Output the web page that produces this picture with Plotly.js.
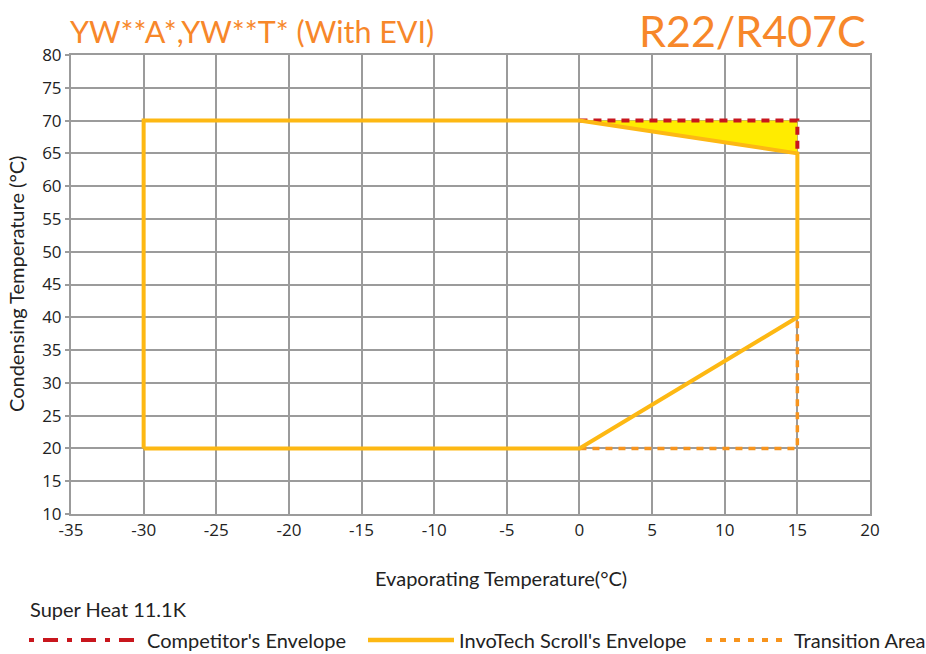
<!DOCTYPE html>
<html>
<head>
<meta charset="utf-8">
<script src="https://cdn.plot.ly/plotly-3.0.1.min.js"></script>
<style>html,body{margin:0;padding:0;background:#fff;}#chart{width:926px;height:654px;}</style>
</head>
<body>
<div id="chart"></div>
<script>
// Data
const competitorX = [0, 15, 15];
const competitorY = [70, 70, 65];
const gainX = [0, 15, 15, 0];
const gainY = [70, 70, 65, 70];
const invoX = [-30, -30, 0, 15, 15, 0, -30];
const invoY = [20, 70, 70, 65, 40, 20, 20];
const transX = [0, 15, 15];
const transY = [20, 20, 40];
const xTicks = [-35, -30, -25, -20, -15, -10, -5, 0, 5, 10, 15, 20];
const xTickText = ['-35', '-30', '-25', '-20', '-15', '-10', '-5', '0', '5', '10', '15', '20'];
const yTicks = [10, 15, 20, 25, 30, 35, 40, 45, 50, 55, 60, 65, 70, 75, 80];
const legendNames = ["Competitor's Envelope", "InvoTech Scroll's Envelope", 'Transition Area'];

const orange = '#F7872A';
const redC = '#C8161D', yellowC = '#FDB813', transC = '#F7941D';
const traces = [
  {x: gainX, y: gainY, type: 'scatter', mode: 'lines', fill: 'toself', fillcolor: '#FFEC00',
   line: {width: 0, color: 'rgba(0,0,0,0)'}, hoverinfo: 'skip'},
  {x: competitorX, y: competitorY, type: 'scatter', mode: 'lines', name: legendNames[0],
   line: {color: redC, width: 4, dash: '8px,6px'}},
  {x: transX, y: transY, type: 'scatter', mode: 'lines', name: legendNames[2],
   line: {color: transC, width: 3.5, dash: '7px,6px'}},
  {x: invoX, y: invoY, type: 'scatter', mode: 'lines', name: legendNames[1],
   line: {color: yellowC, width: 4}}
];

const axisCommon = {
  showgrid: true, gridcolor: '#9B9B9B', gridwidth: 2,
  showline: true, linecolor: '#9B9B9B', linewidth: 2, mirror: true,
  zeroline: false, tickfont: {family: 'Open Sans, sans-serif', size: 17, color: '#222'}
};

// pixel helpers for text/legend placement (plot area: x 71..870, y 55..514)
const px = p => (p - 71) / 799;
const py = p => (514 - p) / 459;
const txtFont = (s) => ({family: 'Lato, sans-serif', size: s, color: '#222'});

const legendY = py(640);
const shapes = [
  {type: 'line', xref: 'paper', yref: 'paper', x0: px(29), x1: px(139), y0: legendY, y1: legendY,
   line: {color: redC, width: 4, dash: '5px,9px,15px,9px'}},
  {type: 'line', xref: 'paper', yref: 'paper', x0: px(368), x1: px(454), y0: legendY, y1: legendY,
   line: {color: yellowC, width: 4.5}},
  {type: 'line', xref: 'paper', yref: 'paper', x0: px(706), x1: px(789), y0: legendY, y1: legendY,
   line: {color: transC, width: 4, dash: '6px,8px'}}
];

const layout = {
  width: 926, height: 654,
  margin: {l: 71, r: 56, t: 55, b: 140},
  paper_bgcolor: '#fff', plot_bgcolor: '#fff',
  showlegend: false,
  xaxis: Object.assign({}, axisCommon, {range: [-35, 20], tickvals: xTicks, ticktext: xTickText, ticks: ''}),
  yaxis: Object.assign({}, axisCommon, {range: [10, 80], tickvals: yTicks, ticks: 'outside', ticklen: 4,
                       tickcolor: '#9B9B9B', tickwidth: 2}),
  shapes: shapes,
  annotations: [
    {text: 'YW**A*,YW**T* (With EVI)', xref: 'paper', yref: 'paper', x: px(68), y: py(31),
     xanchor: 'left', yanchor: 'middle', showarrow: false,
     font: {family: 'Lato, sans-serif', size: 30.5, color: orange}},
    {text: 'R22/R407C', xref: 'paper', yref: 'paper', x: px(868), y: py(31),
     xanchor: 'right', yanchor: 'middle', showarrow: false,
     font: {family: 'Lato, sans-serif', size: 43, color: orange}},
    {text: 'Evaporating Temperature(°C)', xref: 'paper', yref: 'paper', x: px(501), y: py(578),
     xanchor: 'center', yanchor: 'middle', showarrow: false, font: txtFont(20)},
    {text: 'Condensing Temperature (°C)', xref: 'paper', yref: 'paper', x: px(16), y: py(284),
     xanchor: 'center', yanchor: 'middle', textangle: -90, showarrow: false, font: txtFont(20)},
    {text: 'Super Heat 11.1K', xref: 'paper', yref: 'paper', x: px(28), y: py(609),
     xanchor: 'left', yanchor: 'middle', showarrow: false, font: txtFont(20)},
    {text: legendNames[0], xref: 'paper', yref: 'paper', x: px(145), y: legendY,
     xanchor: 'left', yanchor: 'middle', showarrow: false, font: txtFont(20)},
    {text: legendNames[1], xref: 'paper', yref: 'paper', x: px(457), y: legendY,
     xanchor: 'left', yanchor: 'middle', showarrow: false, font: txtFont(20)},
    {text: legendNames[2], xref: 'paper', yref: 'paper', x: px(792), y: legendY,
     xanchor: 'left', yanchor: 'middle', showarrow: false, font: txtFont(20)}
  ]
};

Plotly.newPlot('chart', traces, layout, {displayModeBar: false, staticPlot: true});
</script>
</body>
</html>
